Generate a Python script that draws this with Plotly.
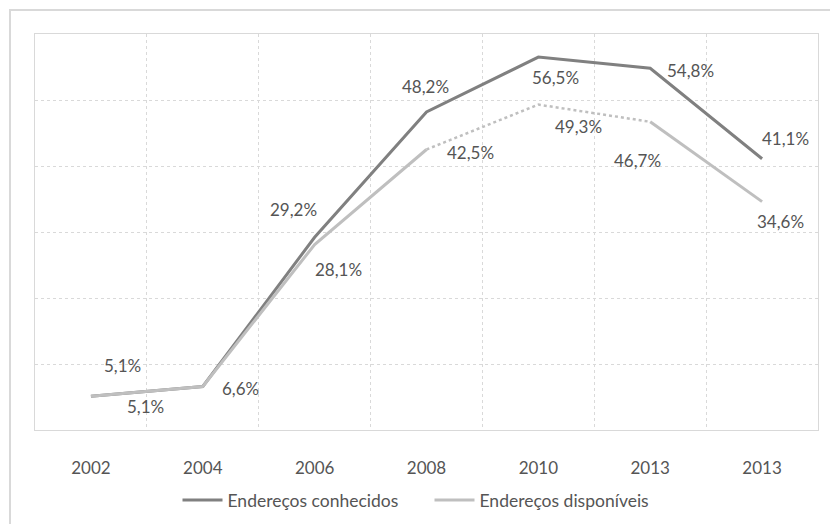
import plotly.graph_objects as go

# Survey years (the last two columns are both labelled 2013)
years = ["2002", "2004", "2006", "2008", "2010", "2013", "2013"]
conhecidos = [5.1, 6.6, 29.2, 48.2, 56.5, 54.8, 41.1]
disponiveis = [5.1, 6.6, 28.1, 42.5, 49.3, 46.7, 34.6]

# indices of the "disponíveis" points joined by a dotted segment
dotted_idx = [3, 4, 5]

x = list(range(len(years)))

DARK = "#808080"
LIGHT = "#bfbfbf"
TEXT = "#555555"
GRID = "#d9d9d9"
FONT = "Lato, 'Open Sans', sans-serif"


def fmt(v):
    return f"{v:.1f}".replace(".", ",") + "%"


# solid line broken at the middle dotted point
solid_disp = [None if i == dotted_idx[1] else v for i, v in enumerate(disponiveis)]
dot_disp = [v if i in dotted_idx else None for i, v in enumerate(disponiveis)]

fig = go.Figure()
fig.add_trace(go.Scatter(
    x=x, y=conhecidos, mode="lines", name="Endereços conhecidos",
    line=dict(color=DARK, width=3), hoverinfo="skip"))
fig.add_trace(go.Scatter(
    x=x, y=solid_disp, mode="lines", name="Endereços disponíveis",
    line=dict(color=LIGHT, width=3), connectgaps=False, hoverinfo="skip"))
fig.add_trace(go.Scatter(
    x=x, y=dot_disp, mode="lines", showlegend=False,
    line=dict(color=LIGHT, width=2.5, dash="dot"), hoverinfo="skip"))

# label offsets (pixels) for each value label
off_con = [(32, 31), (0, 0), (-21, 28), (-1, 25), (17, -20), (40, -2), (23, 20)]
off_disp = [(55, -10), (38, -2), (24, -25), (44, -3), (40, -22), (-13, -39), (18, -20)]

LABEL_FONT = dict(family=FONT, size=17, color=TEXT)
anns = []
for i, v in enumerate(conhecidos):
    if i == 1:
        continue  # shared point with the other series
    dx, dy = off_con[i]
    anns.append(dict(x=x[i], y=v, text=fmt(v), showarrow=False, xshift=dx, yshift=dy,
                     font=LABEL_FONT))
for i, v in enumerate(disponiveis):
    dx, dy = off_disp[i]
    anns.append(dict(x=x[i], y=v, text=fmt(v), showarrow=False, xshift=dx, yshift=dy,
                     font=LABEL_FONT))

fig.update_layout(
    width=830, height=524,
    margin=dict(l=35, r=12, t=34, b=94, autoexpand=False),
    paper_bgcolor="white", plot_bgcolor="white",
    font=dict(family=FONT, size=17, color=TEXT),
    annotations=anns,
    showlegend=True,
    legend=dict(orientation="h", x=0.5 + 3 / 783, xanchor="center",
                yref="container", y=1 - 500 / 524, yanchor="middle",
                font=dict(family=FONT, size=17.5, color=TEXT), itemwidth=40,
                entrywidth=197, entrywidthmode="pixels",
                tracegroupgap=0),
    shapes=[dict(type="rect", xref="paper", yref="paper",
                 x0=(10 - 35) / 783, x1=(845 - 35) / 783,
                 y0=-(540 - 430) / 396, y1=1 + 24 / 396,
                 line=dict(color=GRID, width=2), layer="below")],
)

fig.update_xaxes(
    range=[-0.5, len(years) - 0.5], tickvals=x, ticktext=years,
    showgrid=False, zeroline=False, ticks="", ticklen=0, ticklabelstandoff=23,
    showline=True, linecolor=GRID, linewidth=1, mirror=True,
    minor=dict(tick0=-0.5, dtick=1, showgrid=True, gridcolor=GRID, griddash="dot", gridwidth=1),
    tickfont=dict(family=FONT, size=17, color=TEXT),
)
fig.update_yaxes(
    range=[0, 60], dtick=10, showticklabels=False, zeroline=False,
    showgrid=True, gridcolor=GRID, griddash="dot", gridwidth=1,
    showline=True, linecolor=GRID, linewidth=1, mirror=True,
)

fig.write_html("out.html")
